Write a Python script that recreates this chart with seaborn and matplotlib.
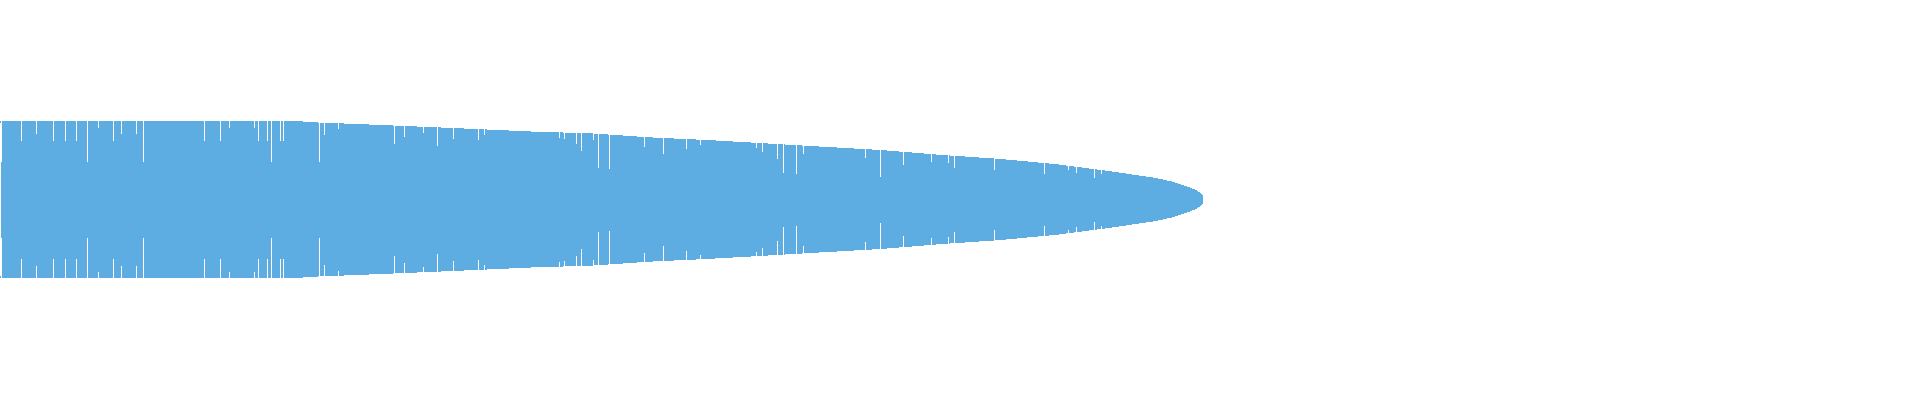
import numpy as np
import pandas as pd
import matplotlib
matplotlib.use("Agg")
import matplotlib.pyplot as plt
import seaborn as sns

sns.set_theme(style="white")
plt.rcParams['font.family'] = ['DejaVu Sans']

BLUE = "#5DADE2"

# envelope of the mirrored shape: position along the axis and half-width
env_x = [0, 300, 304, 331, 356, 380, 404, 429, 452, 475, 498, 519, 542, 584,
         600, 648, 706, 764, 822, 880, 938, 996, 1054, 1113, 1141, 1150,
         1171, 1183, 1194, 1199, 1201, 1202]
env_half = [77.5, 77.5, 76.5, 75.5, 74.5, 73.5, 72.5, 71.5, 70.5, 69.5, 68.5,
            67.5, 66.5, 65.5, 64.5, 61.2, 58.5, 55.2, 51.8, 48.5, 43.8, 39.8,
            34.5, 26.8, 22.5, 21.5, 17.0, 13.0, 9.0, 6.0, 4.5, 0.0]

# thin gaps cut into the shape: position and remaining half-width
notch_x = [0, 20, 35, 52, 64, 75, 86, 97, 112, 120, 135, 142, 203, 219, 228,
           253, 257, 266, 270, 279, 282,
           318, 323, 337, 393, 403, 422, 436, 452, 477, 483, 558, 563, 575,
           580, 592, 597,
           608, 643, 662, 685, 699, 755, 761, 776, 782, 795, 802, 864, 879,
           902, 930, 947, 953, 993, 1043, 1067, 1075, 1093, 1100]
notch_half = [38.7, 59.7, 66.7, 59.7, 59.7, 59.7, 38.7, 72.4, 59.7, 66.7, 66.7,
              38.7, 59.7, 59.7, 72.4, 72.4, 59.7, 59.7, 38.7, 59.7, 59.7,
              38.7, 65.7, 71.4, 56.5, 63.7, 67.7, 54.5, 61.7, 60.7, 65.7, 62.4,
              61.7, 56.4, 49.7, 60.7, 32.7,
              31.8, 53.8, 46.8, 51.8, 55.7, 52.8, 48.8, 41.7, 27.8, 26.8, 46.8,
              42.8, 23.8, 36.0, 38.7, 37.8, 32.8, 30.6, 26.8, 30.5, 27.8, 22.8,
              26.8]

env = pd.DataFrame({"x": env_x, "half": env_half})
env["neg"] = -env["half"]

fig = plt.figure(figsize=(19.2, 4), dpi=100)
ax = fig.add_axes([0, 0, 1, 1])

ax.fill_between(env["x"], env["neg"], env["half"], color=BLUE,
                linewidth=0, antialiased=False)
sns.lineplot(data=env, x="x", y="half", color=BLUE, linewidth=0.7,
             antialiased=False, ax=ax)
sns.lineplot(data=env, x="x", y="neg", color=BLUE, linewidth=0.7,
             antialiased=False, ax=ax)

top = max(env_half) + 5
ax.vlines(notch_x, notch_half, top, color="white", linewidth=0.72,
          antialiased=False, zorder=3)
ax.vlines(notch_x, [-h for h in notch_half], -top, color="white",
          linewidth=0.72, antialiased=False, zorder=3)

ax.set_xlim(-0.5, 1919.5)
ax.set_ylim(-200.5, 199.5)
ax.axis("off")

fig.savefig("out.png", dpi=100, facecolor="white")
